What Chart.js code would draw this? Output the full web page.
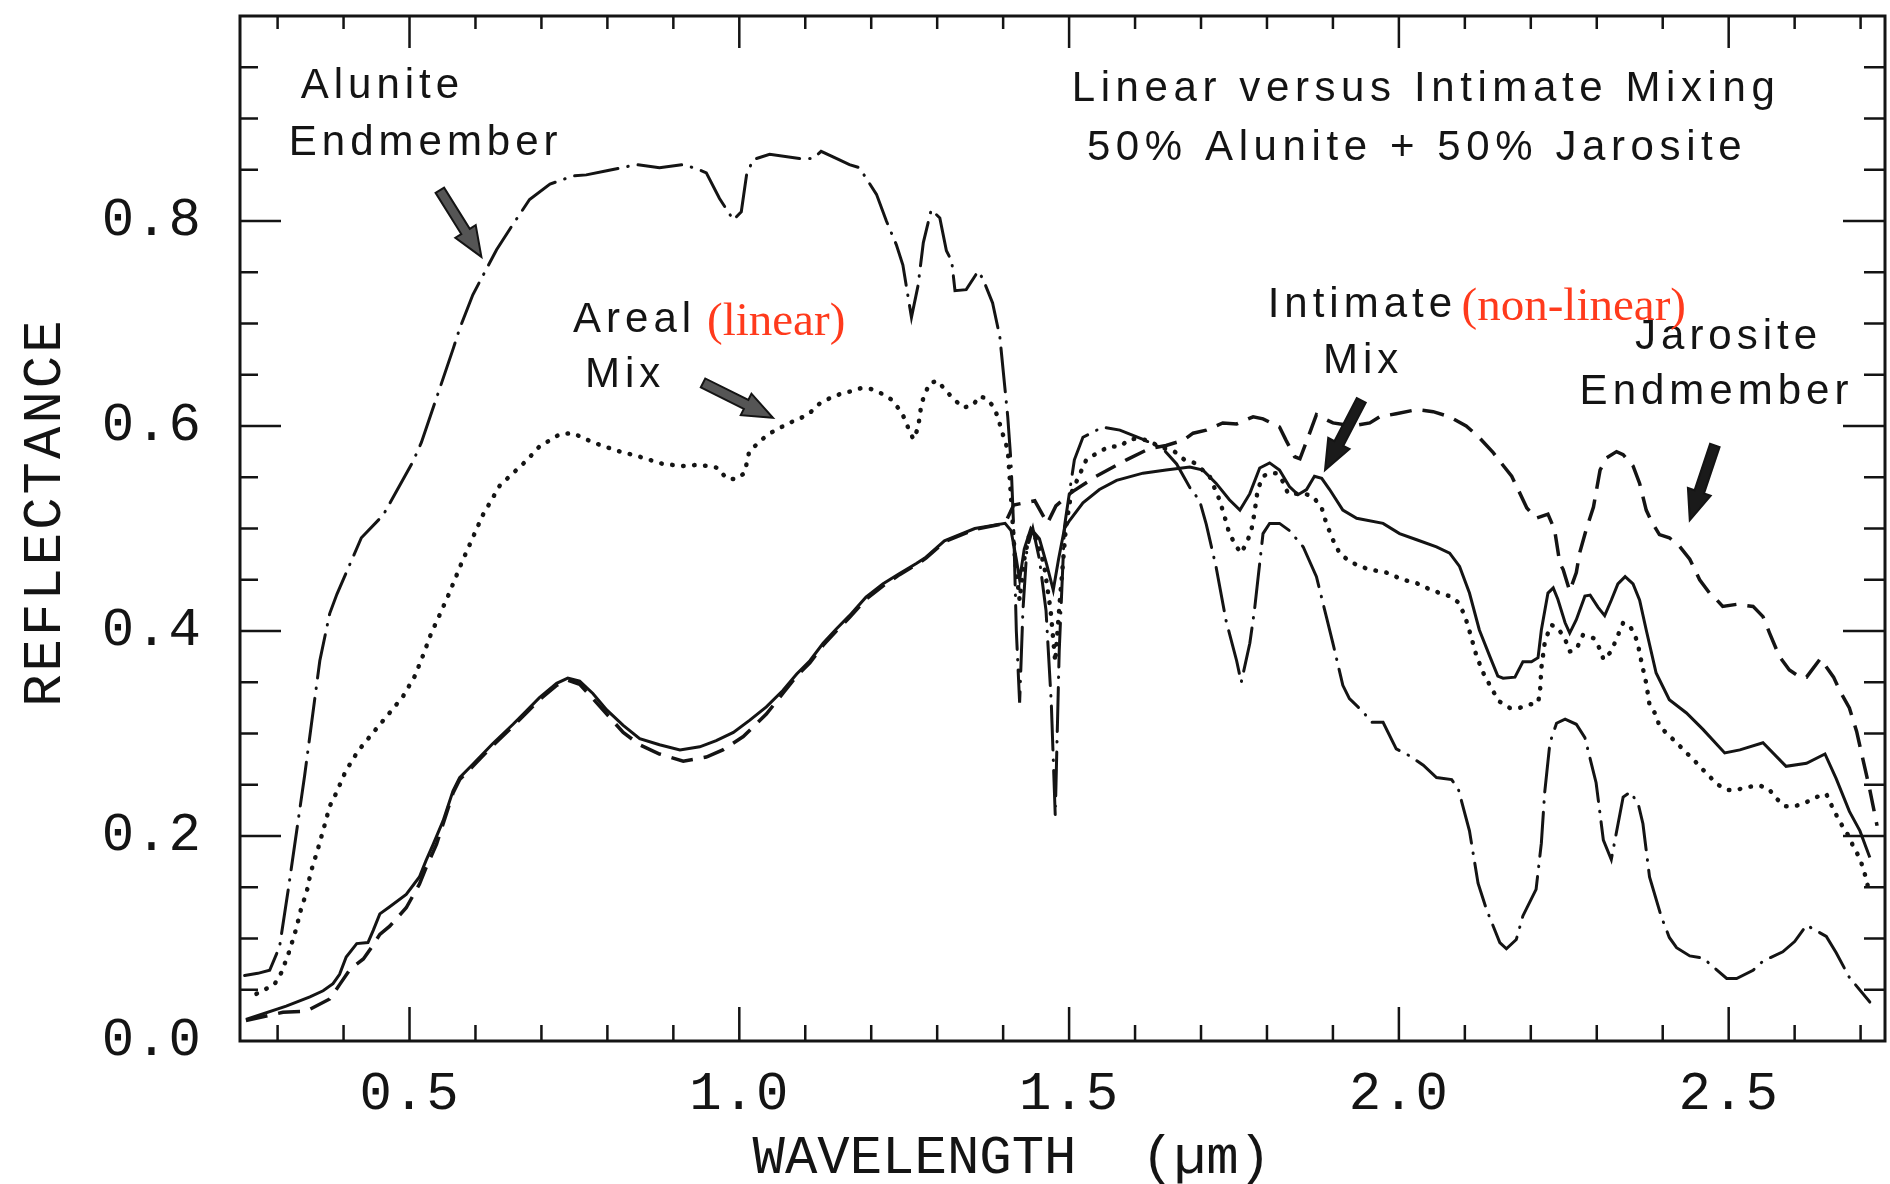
<!DOCTYPE html>
<html><head><meta charset="utf-8">
<script src="https://cdn.jsdelivr.net/npm/chart.js@4/dist/chart.umd.min.js"></script>
<style>html,body{margin:0;padding:0;background:#fff;}#wrap{width:1890px;height:1184px;}</style>
</head><body><div id="wrap"><canvas id="c" width="1890" height="1184"></canvas></div>
<script>
// ---- data (wavelength in µm, reflectance) ----
const aluniteWl = [0.250,0.270,0.288,0.303,0.316,0.341,0.364,0.379,0.390,0.427,0.460,0.505,0.518,0.546,0.566,0.576,0.596,0.632,0.652,0.682,0.713,0.748,0.768,0.799,0.844,0.879,0.915,0.935,0.950,0.970,0.991,1.003,1.011,1.021,1.046,1.091,1.112,1.124,1.147,1.167,1.182,1.208,1.223,1.238,1.248,1.261,1.271,1.279,1.291,1.304,1.314,1.322,1.327,1.344,1.362,1.369,1.384,1.395,1.407,1.412,1.416,1.420,1.425,1.430,1.436,1.445,1.455,1.465,1.473,1.479,1.485,1.493,1.501,1.508,1.521,1.551,1.577,1.612,1.642,1.663,1.683,1.698,1.708,1.723,1.738,1.754,1.761,1.774,1.781,1.794,1.804,1.819,1.834,1.855,1.875,1.890,1.900,1.915,1.925,1.946,1.958,1.976,1.996,2.017,2.037,2.057,2.080,2.090,2.107,2.120,2.133,2.153,2.163,2.178,2.188,2.208,2.216,2.221,2.229,2.239,2.252,2.269,2.282,2.299,2.310,2.322,2.340,2.351,2.363,2.370,2.380,2.398,2.410,2.421,2.441,2.461,2.497,2.512,2.537,2.552,2.582,2.600,2.618,2.648,2.663,2.683,2.714];
const aluniteRefl = [0.064,0.066,0.069,0.092,0.147,0.259,0.371,0.417,0.436,0.491,0.513,0.565,0.584,0.637,0.675,0.695,0.728,0.772,0.792,0.821,0.836,0.844,0.845,0.849,0.855,0.852,0.855,0.851,0.847,0.822,0.801,0.809,0.845,0.860,0.865,0.861,0.861,0.868,0.861,0.855,0.852,0.826,0.800,0.777,0.757,0.706,0.737,0.779,0.811,0.803,0.771,0.761,0.732,0.733,0.751,0.744,0.720,0.687,0.609,0.564,0.500,0.400,0.330,0.420,0.480,0.500,0.470,0.420,0.330,0.220,0.380,0.502,0.537,0.567,0.589,0.599,0.596,0.587,0.578,0.563,0.540,0.527,0.504,0.462,0.410,0.371,0.350,0.388,0.420,0.495,0.505,0.505,0.498,0.482,0.453,0.414,0.388,0.347,0.334,0.321,0.311,0.311,0.285,0.278,0.269,0.257,0.255,0.246,0.205,0.154,0.128,0.096,0.090,0.099,0.122,0.148,0.193,0.242,0.291,0.310,0.314,0.309,0.296,0.252,0.196,0.177,0.238,0.243,0.231,0.212,0.160,0.121,0.101,0.091,0.083,0.081,0.061,0.061,0.069,0.078,0.087,0.097,0.113,0.102,0.086,0.062,0.038];

const arealWl = [0.268,0.295,0.306,0.318,0.328,0.336,0.344,0.350,0.361,0.371,0.379,0.389,0.403,0.422,0.445,0.467,0.490,0.508,0.521,0.533,0.541,0.559,0.580,0.600,0.611,0.637,0.652,0.677,0.697,0.728,0.748,0.778,0.814,0.849,0.884,0.915,0.935,0.953,0.968,0.980,0.994,1.008,1.015,1.031,1.044,1.061,1.076,1.094,1.109,1.122,1.137,1.152,1.170,1.185,1.200,1.218,1.230,1.243,1.250,1.258,1.264,1.271,1.276,1.281,1.289,1.301,1.311,1.324,1.339,1.354,1.364,1.374,1.384,1.392,1.397,1.407,1.412,1.418,1.425,1.432,1.440,1.450,1.462,1.472,1.479,1.486,1.495,1.503,1.526,1.546,1.561,1.577,1.592,1.607,1.622,1.637,1.660,1.675,1.690,1.713,1.728,1.736,1.743,1.754,1.761,1.769,1.776,1.781,1.786,1.794,1.804,1.814,1.824,1.832,1.844,1.857,1.870,1.883,1.890,1.900,1.910,1.925,1.941,1.956,1.981,2.006,2.026,2.042,2.062,2.077,2.090,2.100,2.107,2.118,2.128,2.143,2.153,2.168,2.183,2.196,2.211,2.214,2.216,2.221,2.226,2.231,2.241,2.252,2.259,2.269,2.279,2.295,2.307,2.310,2.322,2.327,2.340,2.350,2.358,2.363,2.368,2.375,2.380,2.390,2.395,2.408,2.421,2.433,2.446,2.459,2.471,2.484,2.497,2.512,2.530,2.548,2.561,2.570,2.585,2.600,2.615,2.633,2.648,2.658,2.666,2.673,2.683,2.688,2.699,2.706,2.711];
const arealRefl = [0.046,0.055,0.067,0.088,0.109,0.130,0.145,0.164,0.187,0.210,0.229,0.242,0.263,0.283,0.301,0.318,0.336,0.356,0.377,0.398,0.409,0.435,0.468,0.497,0.513,0.542,0.551,0.566,0.580,0.592,0.593,0.584,0.576,0.570,0.563,0.561,0.562,0.561,0.559,0.549,0.548,0.554,0.575,0.585,0.592,0.598,0.603,0.608,0.614,0.622,0.627,0.631,0.634,0.637,0.636,0.631,0.626,0.616,0.608,0.595,0.587,0.598,0.621,0.631,0.642,0.644,0.636,0.627,0.618,0.620,0.629,0.627,0.620,0.609,0.597,0.577,0.530,0.470,0.430,0.470,0.495,0.490,0.465,0.420,0.370,0.430,0.500,0.534,0.567,0.575,0.580,0.580,0.587,0.588,0.585,0.580,0.575,0.567,0.564,0.551,0.528,0.511,0.495,0.482,0.476,0.486,0.497,0.515,0.538,0.551,0.554,0.554,0.546,0.534,0.534,0.534,0.531,0.520,0.505,0.489,0.476,0.468,0.463,0.460,0.457,0.450,0.447,0.442,0.437,0.434,0.428,0.415,0.400,0.375,0.359,0.341,0.331,0.325,0.325,0.328,0.330,0.341,0.364,0.388,0.398,0.406,0.403,0.392,0.380,0.382,0.396,0.393,0.380,0.372,0.380,0.388,0.408,0.405,0.396,0.385,0.369,0.349,0.328,0.318,0.307,0.299,0.291,0.283,0.275,0.266,0.258,0.250,0.245,0.245,0.248,0.249,0.246,0.238,0.229,0.229,0.232,0.238,0.241,0.227,0.217,0.209,0.199,0.191,0.178,0.164,0.151];

const intimateWl = [0.252,0.313,0.349,0.369,0.384,0.394,0.404,0.420,0.437,0.445,0.455,0.470,0.495,0.515,0.525,0.536,0.551,0.566,0.576,0.596,0.626,0.657,0.677,0.697,0.723,0.740,0.758,0.778,0.799,0.824,0.849,0.879,0.910,0.940,0.965,0.991,1.016,1.041,1.066,1.087,1.107,1.127,1.147,1.167,1.192,1.218,1.243,1.269,1.283,1.311,1.357,1.403,1.412,1.420,1.425,1.432,1.442,1.455,1.466,1.476,1.484,1.493,1.501,1.521,1.546,1.572,1.612,1.647,1.683,1.703,1.723,1.743,1.759,1.774,1.789,1.804,1.819,1.834,1.847,1.860,1.872,1.883,1.895,1.915,1.936,1.976,2.001,2.027,2.057,2.077,2.092,2.107,2.122,2.138,2.150,2.158,2.176,2.188,2.201,2.211,2.216,2.226,2.234,2.241,2.252,2.259,2.269,2.282,2.290,2.302,2.312,2.322,2.332,2.343,2.355,2.365,2.375,2.390,2.410,2.436,2.461,2.494,2.517,2.552,2.587,2.618,2.646,2.663,2.683,2.699,2.714];
const intimateRefl = [0.021,0.034,0.043,0.049,0.056,0.065,0.082,0.095,0.096,0.108,0.124,0.131,0.143,0.160,0.176,0.192,0.215,0.244,0.257,0.270,0.290,0.309,0.322,0.335,0.349,0.354,0.351,0.339,0.323,0.308,0.295,0.289,0.284,0.287,0.293,0.301,0.313,0.326,0.342,0.358,0.371,0.388,0.402,0.415,0.433,0.446,0.456,0.466,0.472,0.488,0.500,0.505,0.498,0.470,0.450,0.480,0.500,0.490,0.465,0.440,0.470,0.500,0.508,0.525,0.538,0.547,0.554,0.557,0.560,0.557,0.544,0.528,0.518,0.534,0.559,0.564,0.557,0.541,0.533,0.538,0.551,0.549,0.538,0.518,0.510,0.505,0.495,0.489,0.482,0.476,0.463,0.437,0.401,0.375,0.356,0.354,0.355,0.370,0.370,0.374,0.401,0.437,0.442,0.431,0.408,0.398,0.411,0.434,0.435,0.423,0.415,0.430,0.446,0.453,0.446,0.430,0.401,0.359,0.333,0.320,0.304,0.281,0.284,0.291,0.268,0.271,0.280,0.256,0.224,0.205,0.179];

const jarositeWl = [0.252,0.308,0.343,0.379,0.394,0.410,0.430,0.442,0.455,0.470,0.495,0.515,0.525,0.541,0.551,0.566,0.576,0.596,0.626,0.657,0.677,0.697,0.723,0.740,0.758,0.778,0.799,0.824,0.849,0.879,0.915,0.950,0.975,1.006,1.041,1.066,1.087,1.107,1.127,1.147,1.167,1.192,1.218,1.243,1.269,1.283,1.311,1.357,1.403,1.416,1.448,1.467,1.480,1.503,1.541,1.587,1.622,1.647,1.673,1.688,1.708,1.733,1.754,1.779,1.794,1.819,1.829,1.842,1.850,1.863,1.875,1.900,1.930,1.956,1.971,1.996,2.027,2.052,2.077,2.102,2.120,2.143,2.155,2.171,2.183,2.194,2.208,2.226,2.236,2.244,2.249,2.259,2.269,2.274,2.284,2.295,2.305,2.315,2.330,2.340,2.355,2.365,2.375,2.383,2.395,2.410,2.425,2.441,2.456,2.471,2.481,2.491,2.512,2.537,2.552,2.562,2.577,2.592,2.608,2.618,2.639,2.659,2.669,2.683,2.694,2.714,2.725];
const jarositeRefl = [0.020,0.028,0.029,0.041,0.055,0.070,0.080,0.091,0.104,0.112,0.130,0.153,0.169,0.192,0.212,0.242,0.255,0.268,0.288,0.307,0.320,0.333,0.347,0.352,0.348,0.334,0.319,0.301,0.289,0.280,0.273,0.277,0.284,0.297,0.319,0.339,0.356,0.369,0.386,0.400,0.413,0.431,0.444,0.455,0.465,0.471,0.487,0.499,0.505,0.523,0.527,0.505,0.522,0.535,0.551,0.567,0.578,0.581,0.586,0.593,0.596,0.603,0.602,0.609,0.607,0.599,0.586,0.570,0.568,0.590,0.611,0.603,0.600,0.603,0.609,0.612,0.616,0.614,0.609,0.600,0.590,0.574,0.564,0.551,0.535,0.520,0.510,0.514,0.499,0.466,0.460,0.439,0.457,0.476,0.499,0.521,0.557,0.569,0.575,0.572,0.561,0.544,0.518,0.507,0.494,0.491,0.483,0.470,0.450,0.437,0.431,0.424,0.426,0.424,0.414,0.398,0.375,0.362,0.355,0.355,0.373,0.355,0.341,0.325,0.302,0.245,0.210];

// ---- axis ticks ----
const xLabelValues = [0.5, 1.0, 1.5, 2.0, 2.5];
const xTickMarks = [0.3,0.4,0.5,0.6,0.7,0.8,0.9,1.0,1.1,1.2,1.3,1.4,1.5,1.6,1.7,1.8,1.9,2.0,2.1,2.2,2.3,2.4,2.5,2.6,2.7];
const yLabelValues = [0.0, 0.2, 0.4, 0.6, 0.8];
const yTickMarks = [0.05,0.1,0.15,0.2,0.25,0.3,0.35,0.4,0.45,0.5,0.55,0.6,0.65,0.7,0.75,0.8,0.85,0.9,0.95];

// ---- annotations (data coordinates: left, baseline) ----
const blackLabels = [
  {text:'Alunite', x:0.335, y:0.920},
  {text:'Endmember', x:0.317, y:0.864},
  {text:'Linear versus Intimate Mixing', x:1.504, y:0.917},
  {text:'50% Alunite + 50% Jarosite', x:1.527, y:0.860},
  {text:'Areal', x:0.748, y:0.692},
  {text:'Mix', x:0.766, y:0.638},
  {text:'Intimate', x:1.801, y:0.706},
  {text:'Mix', x:1.885, y:0.652},
  {text:'Jarosite', x:2.358, y:0.675},
  {text:'Endmember', x:2.274, y:0.621}
];
const redLabels = [
  {text:'(linear)', x:0.951, y:0.689},
  {text:'(non-linear)', x:2.095, y:0.703}
];
const arrows = [
  {x1:0.546, y1:0.830, x2:0.609, y2:0.765, fill:'#555'},
  {x1:0.945, y1:0.642, x2:1.051, y2:0.608, fill:'#555'},
  {x1:1.943, y1:0.625, x2:1.888, y2:0.557, fill:'#1a1a1a'},
  {x1:2.479, y1:0.581, x2:2.441, y2:0.508, fill:'#1a1a1a'}
];

const toPts = (xs, ys) => xs.map((x, i) => ({x, y: ys[i]}));
const INK = '#141414';

const framePlugin = {
  id: 'frame',
  beforeDraw(chart) { chart.ctx.letterSpacing = '1px'; },
  afterDraw(chart) {
    const {ctx, chartArea: a, scales: {x, y}} = chart;
    ctx.save();
    ctx.letterSpacing = '0px';
    ctx.strokeStyle = INK;
    ctx.lineWidth = 3;
    ctx.strokeRect(a.left, a.top, a.right - a.left, a.bottom - a.top);
    ctx.lineWidth = 2.5;
    ctx.beginPath();
    yTickMarks.forEach(v => {
      const p = y.getPixelForValue(v);
      const major = yLabelValues.includes(v);
      ctx.moveTo(a.left, p); ctx.lineTo(a.left + (major ? 41 : 18), p);
      ctx.moveTo(a.right, p); ctx.lineTo(a.right - (major ? 42 : 21), p);
    });
    xTickMarks.forEach(v => {
      const p = x.getPixelForValue(v);
      const major = xLabelValues.includes(v);
      ctx.moveTo(p, a.bottom); ctx.lineTo(p, a.bottom - (major ? 34 : 16));
      ctx.moveTo(p, a.top); ctx.lineTo(p, a.top + (major ? 32 : 13));
    });
    ctx.stroke();

    // axis titles
    ctx.fillStyle = INK;
    ctx.font = '54px "Liberation Mono"';
    ctx.textAlign = 'center';
    ctx.textBaseline = 'middle';
    ctx.letterSpacing = '3px';
    ctx.save();
    ctx.translate(46, y.getPixelForValue(0.516));
    ctx.rotate(-Math.PI / 2);
    ctx.fillText('REFLECTANCE', 0, 0);
    ctx.restore();
    ctx.letterSpacing = '0px';
    ctx.fillText('WAVELENGTH  (\u00b5m)', x.getPixelForValue(1.413), 1159);

    // annotation text
    ctx.textAlign = 'left';
    ctx.textBaseline = 'alphabetic';
    ctx.font = '42px "Liberation Sans"';
    blackLabels.forEach(l => {
      ctx.letterSpacing = l.text.length > 20 ? '5.6px' : '5px';
      ctx.fillText(l.text, x.getPixelForValue(l.x), y.getPixelForValue(l.y));
    });
    ctx.font = '47px "Liberation Serif"';
    ctx.letterSpacing = '0px';
    ctx.fillStyle = '#ff3a1c';
    redLabels.forEach(l => ctx.fillText(l.text, x.getPixelForValue(l.x), y.getPixelForValue(l.y)));

    // arrows
    arrows.forEach(ar => {
      const x1 = x.getPixelForValue(ar.x1), y1 = y.getPixelForValue(ar.y1);
      const x2 = x.getPixelForValue(ar.x2), y2 = y.getPixelForValue(ar.y2);
      const dx = x2 - x1, dy = y2 - y1, L = Math.hypot(dx, dy);
      const ux = dx / L, uy = dy / L, nx = -uy, ny = ux;
      const hl = 30, hw = 12, sw = 5;
      const bx = x2 - ux * hl, by = y2 - uy * hl;
      ctx.beginPath();
      ctx.moveTo(x1 + nx * sw, y1 + ny * sw);
      ctx.lineTo(bx + nx * sw, by + ny * sw);
      ctx.lineTo(bx + nx * hw, by + ny * hw);
      ctx.lineTo(x2, y2);
      ctx.lineTo(bx - nx * hw, by - ny * hw);
      ctx.lineTo(bx - nx * sw, by - ny * sw);
      ctx.lineTo(x1 - nx * sw, y1 - ny * sw);
      ctx.closePath();
      ctx.fillStyle = ar.fill;
      ctx.fill();
      ctx.lineWidth = 2;
      ctx.strokeStyle = INK;
      ctx.stroke();
    });
    ctx.restore();
  }
};

const tickFont = {family: 'Liberation Mono', size: 54};

new Chart(document.getElementById('c'), {
  type: 'line',
  data: {
    datasets: [
      {label: 'Alunite Endmember', data: toPts(aluniteWl, aluniteRefl), borderColor: INK, borderWidth: 3,
       borderDash: [44, 10, 0.5, 10], borderCapStyle: 'round'},
      {label: 'Areal (linear) Mix', data: toPts(arealWl, arealRefl), borderColor: INK, borderWidth: 4.5,
       borderDash: [0.5, 10.5], borderCapStyle: 'round'},
      {label: 'Intimate (non-linear) Mix', data: toPts(intimateWl, intimateRefl), borderColor: INK, borderWidth: 3},
      {label: 'Jarosite Endmember', data: toPts(jarositeWl, jarositeRefl), borderColor: INK, borderWidth: 3.5,
       borderDash: [22, 11]}
    ]
  },
  options: {
    responsive: false,
    animation: false,
    devicePixelRatio: 1,
    layout: {padding: {top: 16, right: 5, left: 0, bottom: 0}},
    plugins: {legend: {display: false}, tooltip: {enabled: false}},
    elements: {point: {radius: 0}, line: {tension: 0, fill: false}},
    scales: {
      x: {
        type: 'linear', min: 0.243, max: 2.737,
        grid: {display: false, drawTicks: false},
        border: {display: false},
        ticks: {padding: 21, font: tickFont, color: INK, autoSkip: false, maxRotation: 0,
                callback: v => Number(v).toFixed(1)},
        afterBuildTicks: s => { s.ticks = xLabelValues.map(v => ({value: v})); },
        afterFit: s => { s.height = 143; s.paddingLeft = 0; s.paddingRight = 0; }
      },
      y: {
        type: 'linear', min: 0, max: 1.0,
        grid: {display: false, drawTicks: false},
        border: {display: false},
        ticks: {padding: 38, font: tickFont, color: INK, callback: v => Number(v).toFixed(1)},
        afterBuildTicks: s => { s.ticks = yLabelValues.map(v => ({value: v})); },
        afterFit: s => { s.width = 240; s.paddingTop = 0; s.paddingBottom = 0; }
      }
    }
  },
  plugins: [framePlugin]
});
</script>
</body></html>
